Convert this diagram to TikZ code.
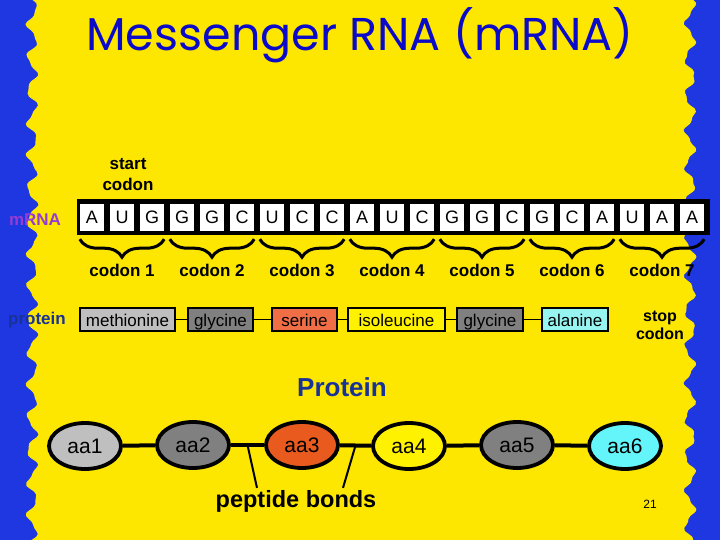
\documentclass[tikz,border=0pt]{standalone}
\usepackage{fontspec}
\setmainfont{Liberation Sans}
\newfontfamily\titlefont{Poppins}
\usepackage{xcolor}
\usepackage{tikz}
\usetikzlibrary{positioning,shapes.geometric,decorations.pathreplacing}

\definecolor{slideyellow}{RGB}{253,230,0}
\definecolor{bordblue}{RGB}{30,55,225}
\definecolor{titleblue}{RGB}{10,10,200}
\definecolor{mrnapurple}{RGB}{150,60,210}
\definecolor{protblue}{RGB}{25,50,150}
\definecolor{serinered}{RGB}{240,110,70}
\definecolor{aared}{RGB}{232,90,30}
\definecolor{alaninecyan}{RGB}{150,245,240}
\definecolor{aacyan}{RGB}{100,245,250}

\begin{document}
\begin{tikzpicture}[
  x=1pt, y=-1pt,
  base/.style={fill=white, minimum width=24pt, minimum height=27pt, inner sep=0pt, font=\fontsize{18}{18}\selectfont},
  lbl/.style={align=center, inner sep=1pt, font=\bfseries\fontsize{17}{21}\selectfont},
  aabox/.style={draw, line width=1.6pt, minimum height=23pt, inner sep=2pt, text height=13pt, text depth=0pt, font=\fontsize{17}{17}\selectfont},
  aa/.style={ellipse, draw, line width=3.8pt, minimum width=72pt, minimum height=46pt, inner sep=0pt, font=\fontsize{21}{21}\selectfont},
  bond/.style={line width=1.8pt},
  peptide/.style={line width=4pt},
  codonbrace/.style={decorate, decoration={brace, mirror, amplitude=18pt}, line width=3pt},
]
\useasboundingbox (0,0) rectangle (720,540);
% slide background
\fill[bordblue] (0,0) rectangle (720,540);
\fill[slideyellow] plot[domain=0:540, samples=180, smooth] ({32+5*sin(11*\x)+1.5*sin(25*\x+20)},\x)
  -- plot[domain=540:0, samples=180, smooth] ({690+5*sin(10*\x+40)+1.5*sin(27*\x)},\x) -- cycle;

% title
\node[font=\titlefont\fontsize{46}{46}\selectfont, text=titleblue] (title) at (360,35) {Messenger RNA (mRNA)};

% mRNA strand
\node[fill=black, minimum width=633pt, minimum height=36pt, inner sep=0pt] (strip) at (393.5,217) {};
\foreach \b [count=\i] in {A,U,G,G,G,C,U,C,C,A,U,C,G,G,C,G,C,A,U,A,A}
  \node[base] (b\i) at ({62+30*\i},217.5) {\b};
\node[lbl, text=mrnapurple] (mrna) at (35,220) {mRNA};
\node[lbl] (start) at (128,175) {start\\codon};

% codons
\foreach \k in {1,...,7}{
  \pgfmathtruncatemacro\first{3*\k-2}
  \pgfmathtruncatemacro\last{3*\k}
  \draw[codonbrace] ([yshift=-8pt]b\first.south west) -- ([yshift=-8pt]b\last.south east);
  \node[lbl] (c\k) at ({62+30*(3*\k-1)},270) {codon \k};
}

% amino acids
\node[lbl, text=protblue] (prot) at (37,320) {protein};
\node[aabox, fill=black!25, minimum width=95pt] (met) at (127.5,319.5) {methionine};
\node[aabox, fill=black!50, minimum width=65pt] (gly) at (220.5,319.5) {glycine};
\node[aabox, fill=serinered, minimum width=65pt] (ser) at (304.5,319.5) {serine};
\node[aabox, fill=yellow, minimum width=97pt] (ile) at (396.5,319.5) {isoleucine};
\node[aabox, fill=black!50, minimum width=66pt] (glyb) at (490,319.5) {glycine};
\node[aabox, fill=alaninecyan, minimum width=66pt] (ala) at (575,319.5) {alanine};
\node[lbl, font=\bfseries\fontsize{16}{18}\selectfont] (stop) at (660,325) {stop\\codon};
\draw[bond] (met) -- (gly);
\draw[bond] (gly) -- (ser);
\draw[bond] (ser) -- (ile);
\draw[bond] (ile) -- (glyb);
\draw[bond] (glyb) -- (ala);

% protein chain
\node[font=\bfseries\fontsize{26}{26}\selectfont, text=protblue] (protein) at (342,387) {Protein};
\node[aa, fill=black!25] (aa1) at (85,446) {aa1};
\node[aa, fill=black!50] (aa2) at (193,445) {aa2};
\node[aa, fill=aared] (aa3) at (302,445) {aa3};
\node[aa, fill=yellow] (aa4) at (409,446) {aa4};
\node[aa, fill=black!50] (aa5) at (517,445) {aa5};
\node[aa, fill=aacyan] (aa6) at (625,446) {aa6};
\draw[peptide] (aa1) -- (aa2);
\draw[peptide] (aa2) -- coordinate (pb1) (aa3);
\draw[peptide] (aa3) -- coordinate (pb2) (aa4);
\draw[peptide] (aa4) -- (aa5);
\draw[peptide] (aa5) -- (aa6);
\node[font=\bfseries\fontsize{23.5}{23.5}\selectfont, inner sep=2pt] (bonds) at (296,501) {peptide bonds};
\draw[line width=2pt] (pb1) -- ([xshift=-39pt]bonds.north);
\draw[line width=2pt] (pb2) -- ([xshift=47pt]bonds.north);

\node[font=\fontsize{12}{12}\selectfont] (pnum) at (650,504) {21};
\end{tikzpicture}
\end{document}
